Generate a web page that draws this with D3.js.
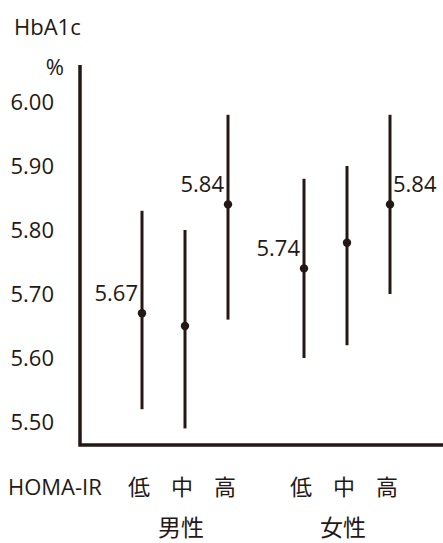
<!DOCTYPE html>
<html>
<head>
<meta charset="utf-8">
<script src="https://cdn.jsdelivr.net/npm/d3@7"></script>
<style>
  html, body { margin: 0; padding: 0; background: #fff; }
  svg { display: block; }
  text { font-family: "Open Sans", "Noto Sans CJK JP", sans-serif; fill: #231815; }
</style>
</head>
<body>
<svg id="chart" width="443" height="543"></svg>
<script>
// HbA1c (%) by HOMA-IR tertile, men and women: mean with interval bars
const groups = ["男性", "女性"];
const levels = ["低", "中", "高"];

const maleMean = [5.67, 5.65, 5.84];
const maleLower = [5.52, 5.49, 5.66];
const maleUpper = [5.83, 5.80, 5.98];

const femaleMean = [5.74, 5.78, 5.84];
const femaleLower = [5.60, 5.62, 5.70];
const femaleUpper = [5.88, 5.90, 5.98];

// which means carry a value label, and on which side of the bar
const maleLabelSide = ["left", null, "left"];
const femaleLabelSide = ["left", null, "right"];

const yTicks = [5.50, 5.60, 5.70, 5.80, 5.90, 6.00];
const yTitle = "HbA1c";
const yUnit = "%";
const xTitle = "HOMA-IR";

const ink = "#231815";
const svg = d3.select("#chart");

// frame
const axisX = 80, axisTop = 65, axisBottom = 445, axisRight = 443;

const y = d3.scaleLinear().domain([5.5, 6.0]).range([422, 102]);
const xGroup = d3.scalePoint().domain(groups).range([185, 347]);
const xLevel = d3.scalePoint().domain(levels).range([-43, 43]);

const rows = [];
[[maleMean, maleLower, maleUpper, maleLabelSide], [femaleMean, femaleLower, femaleUpper, femaleLabelSide]]
  .forEach(([m, lo, hi, side], gi) => {
    levels.forEach((lv, li) => {
      rows.push({ group: groups[gi], level: lv, mean: m[li], lo: lo[li], hi: hi[li], side: side[li] });
    });
  });
const xPos = d => xGroup(d.group) + xLevel(d.level);

// axis lines
svg.append("path")
  .attr("d", `M${axisX},${axisTop}V${axisBottom}H${axisRight}`)
  .attr("fill", "none").attr("stroke", ink).attr("stroke-width", 3.5);

// y tick labels
const yAxis = svg.append("g")
  .attr("transform", `translate(${axisX},0)`)
  .call(d3.axisLeft(y).tickValues(yTicks).tickFormat(d3.format(".2f")).tickSize(0).tickPadding(26));
yAxis.select(".domain").remove();
yAxis.selectAll("text")
  .attr("font-size", 22).attr("font-family", "Open Sans").attr("fill", ink).attr("dy", "0.36em");

// titles
svg.append("text").attr("x", 14).attr("y", 35).attr("font-size", 22).text(yTitle);
svg.append("text").attr("x", 64).attr("y", 75).attr("font-size", 22).attr("text-anchor", "end").text(yUnit);
svg.append("text").attr("x", 8).attr("y", 495).attr("font-size", 22).text(xTitle);

// interval bars
svg.append("g").selectAll("line").data(rows).join("line")
  .attr("x1", xPos).attr("x2", xPos)
  .attr("y1", d => y(d.hi)).attr("y2", d => y(d.lo))
  .attr("stroke", ink).attr("stroke-width", 3);

// means
svg.append("g").selectAll("circle").data(rows).join("circle")
  .attr("cx", xPos).attr("cy", d => y(d.mean)).attr("r", 4.2)
  .attr("fill", ink);

// value labels
svg.append("g").selectAll("text").data(rows.filter(d => d.side)).join("text")
  .attr("x", d => d.side === "left" ? xPos(d) - 4 : xPos(d) + 3)
  .attr("y", d => y(d.mean) - 20)
  .attr("dy", "0.36em")
  .attr("text-anchor", d => d.side === "left" ? "end" : "start")
  .attr("font-size", 22)
  .text(d => d3.format(".2f")(d.mean));

// level labels
svg.append("g").selectAll("text").data(rows).join("text")
  .attr("x", d => xPos(d) - 3)
  .attr("y", 495)
  .attr("text-anchor", "middle")
  .attr("font-size", 22)
  .attr("font-family", "Noto Sans CJK JP")
  .text(d => d.level);

// group labels
svg.append("g").selectAll("text").data(groups).join("text")
  .attr("x", d => xGroup(d) - 4)
  .attr("y", 536)
  .attr("text-anchor", "middle")
  .attr("font-size", 23)
  .attr("font-family", "Noto Sans CJK JP")
  .text(d => d);
</script>
</body>
</html>
